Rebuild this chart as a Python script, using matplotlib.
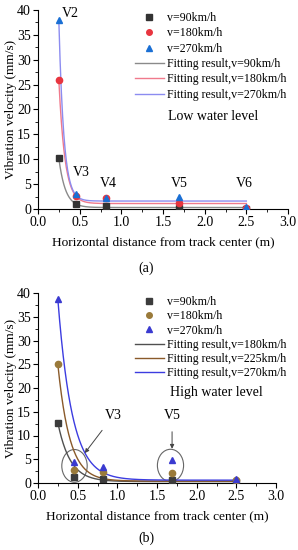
import numpy as np
import matplotlib
matplotlib.use("Agg")
import matplotlib.pyplot as plt
from matplotlib.lines import Line2D
from matplotlib.patches import Ellipse
from matplotlib.ticker import MultipleLocator

plt.rcParams['font.family'] = ['Liberation Serif', 'DejaVu Serif']
plt.rcParams['mathtext.fontset'] = 'stix'

# measuring points (horizontal distance, m)
dist = [0.25, 0.45, 0.82, 1.69, 2.49]

# (a) low water level, vibration velocity (mm/s)
low_v90 = [10.2, 1.0, 0.6, 0.27, 0.1]
low_v180 = [25.9, 2.7, 2.2, 1.27, 0.3]
low_v270 = [37.9, 2.95, 2.15, 2.5, 0.35]
# fit y = y0 + (y_start - y0) * exp(-(x - 0.25) / t)
low_fit_start = [10.2, 25.9, 37.9]
low_fit_t = [0.079, 0.073, 0.060]
low_fit_y0 = [0.3, 1.1, 1.6]

# (b) high water level
high_v90 = [12.7, 1.27, 0.9, 0.55, 0.3]
high_v180 = [25.0, 2.7, 2.3, 2.2, 0.6]
high_v270 = [38.7, 4.4, 3.4, 4.8, 0.9]
high_fit_start = [12.7, 25.0, 38.7]
high_fit_t = [0.155, 0.15, 0.18]
high_fit_y0 = [0.3, 0.4, 0.6]

point_labels = ["v=90km/h", "v=180km/h", "v=270km/h"]
low_fit_labels = ["Fitting result,v=90km/h", "Fitting result,v=180km/h",
                  "Fitting result,v=270km/h"]
high_fit_labels = ["Fitting result,v=180km/h", "Fitting result,v=225km/h",
                   "Fitting result,v=270km/h"]

W, H = 298, 550
fig = plt.figure(figsize=(W / 100, H / 100), dpi=100)
ax1 = fig.add_axes([38 / W, 1 - 209 / H, 250 / W, 199 / H])
ax2 = fig.add_axes([38 / W, 1 - 483 / H, 238 / W, 190 / H])

xf = np.linspace(0.25, 2.5, 300)


def fit_curve(start, t, y0):
    return y0 + (start - y0) * np.exp(-(xf - 0.25) / t)


def style_axes(ax):
    ax.set_xlim(0, 3.0)
    ax.set_ylim(0, 40)
    ax.spines['top'].set_visible(False)
    ax.spines['right'].set_visible(False)
    ax.xaxis.set_major_locator(MultipleLocator(0.5))
    ax.xaxis.set_minor_locator(MultipleLocator(0.25))
    ax.yaxis.set_major_locator(MultipleLocator(5))
    ax.yaxis.set_minor_locator(MultipleLocator(2.5))
    ax.xaxis.set_major_formatter(matplotlib.ticker.FormatStrFormatter('%.1f'))
    ax.tick_params(which='major', direction='out', length=3.5, width=0.8,
                   labelsize=10, pad=1.5)
    ax.tick_params(which='minor', direction='out', length=2, width=0.6)
    ax.set_xlabel("Horizontal distance from track center (m)", fontsize=9.6,
                  labelpad=5)
    ax.set_ylabel("Vibration velocity (mm/s)", fontsize=9.6, labelpad=0)


def make_legend(ax, pt_colors, pt_markers, line_colors, fit_labels, top, sp):
    handles = []
    for c, m, lab in zip(pt_colors, pt_markers, point_labels):
        handles.append(Line2D([], [], ls='none', marker=m, color=c, ms=4,
                              label=lab))
    for c, lab in zip(line_colors, fit_labels):
        handles.append(Line2D([], [], color=c, lw=1.0, label=lab))
    ax.legend(handles=handles, loc='upper left', frameon=False, fontsize=8.6,
              bbox_to_anchor=(135 / W, 1 - top / H),
              bbox_transform=fig.transFigure, borderpad=0, borderaxespad=0,
              handlelength=2.4, handletextpad=0.3, labelspacing=sp)


# ---- (a) ----
c_pts_a = ['#333333', '#e8353f', '#1a6fd4']
c_fit_a = ['#8a8a8a', '#f07a8c', '#8c8cf0']
mk = ['s', 'o', '^']
starts, ts, y0s = low_fit_start, low_fit_t, low_fit_y0
for i in range(3):
    ax1.plot(xf, fit_curve(starts[i], ts[i], y0s[i]), color=c_fit_a[i], lw=1.0,
             zorder=2)
for vals, c, m in zip([low_v90, low_v180, low_v270], c_pts_a, mk):
    ax1.plot(dist, vals, ls='none', marker=m, color=c, ms=4.5, zorder=3)
style_axes(ax1)
make_legend(ax1, c_pts_a, mk, c_fit_a, low_fit_labels, 12, 0.28)
ax1.text(1.56, 18.5, "Low water level", fontsize=10, ha='left', va='center')
for lab, x, y in [("V2", 0.39, 39.3), ("V3", 0.52, 7.3), ("V4", 0.84, 5.2),
                  ("V5", 1.69, 5.2), ("V6", 2.48, 5.2)]:
    ax1.text(x, y, lab, fontsize=10, ha='center', va='center')
fig.text(0.49, 1 - 268 / H, "(a)", fontsize=10, ha='center', va='center')

# ---- (b) ----
c_pts_b = ['#3c3c3c', '#9a7a3a', '#3a3ad0']
c_fit_b = ['#505050', '#8a5a2a', '#3c3ce0']
starts, ts, y0s = high_fit_start, high_fit_t, high_fit_y0
for i in range(3):
    ax2.plot(xf, fit_curve(starts[i], ts[i], y0s[i]), color=c_fit_b[i], lw=1.0,
             zorder=2)
for vals, c, m in zip([high_v90, high_v180, high_v270], c_pts_b, mk):
    ax2.plot(dist, vals, ls='none', marker=m, color=c, ms=4.5, zorder=3)
style_axes(ax2)
make_legend(ax2, c_pts_b, mk, c_fit_b, high_fit_labels, 296, 0.19)
ax2.text(1.66, 19.1, "High water level", fontsize=10, ha='left', va='center')
ax2.add_patch(Ellipse((0.46, 3.6), 0.32, 6.9, fill=False, ec='#666666', lw=0.8))
ax2.add_patch(Ellipse((1.67, 3.7), 0.33, 6.8, fill=False, ec='#666666', lw=0.8))
ax2.annotate("V3", xy=(0.59, 6.3), xytext=(0.95, 14.2), fontsize=10,
             ha='center', va='center',
             arrowprops=dict(arrowstyle='-|>', color='#444444', lw=0.7,
                             mutation_scale=6, shrinkA=5, shrinkB=0))
ax2.annotate("V5", xy=(1.69, 7.2), xytext=(1.69, 14.2), fontsize=10,
             ha='center', va='center',
             arrowprops=dict(arrowstyle='-|>', color='#444444', lw=0.7,
                             mutation_scale=6, shrinkA=5, shrinkB=0))
fig.text(0.49, 1 - 538 / H, "(b)", fontsize=10, ha='center', va='center')

fig.savefig("out.png", dpi=100)
